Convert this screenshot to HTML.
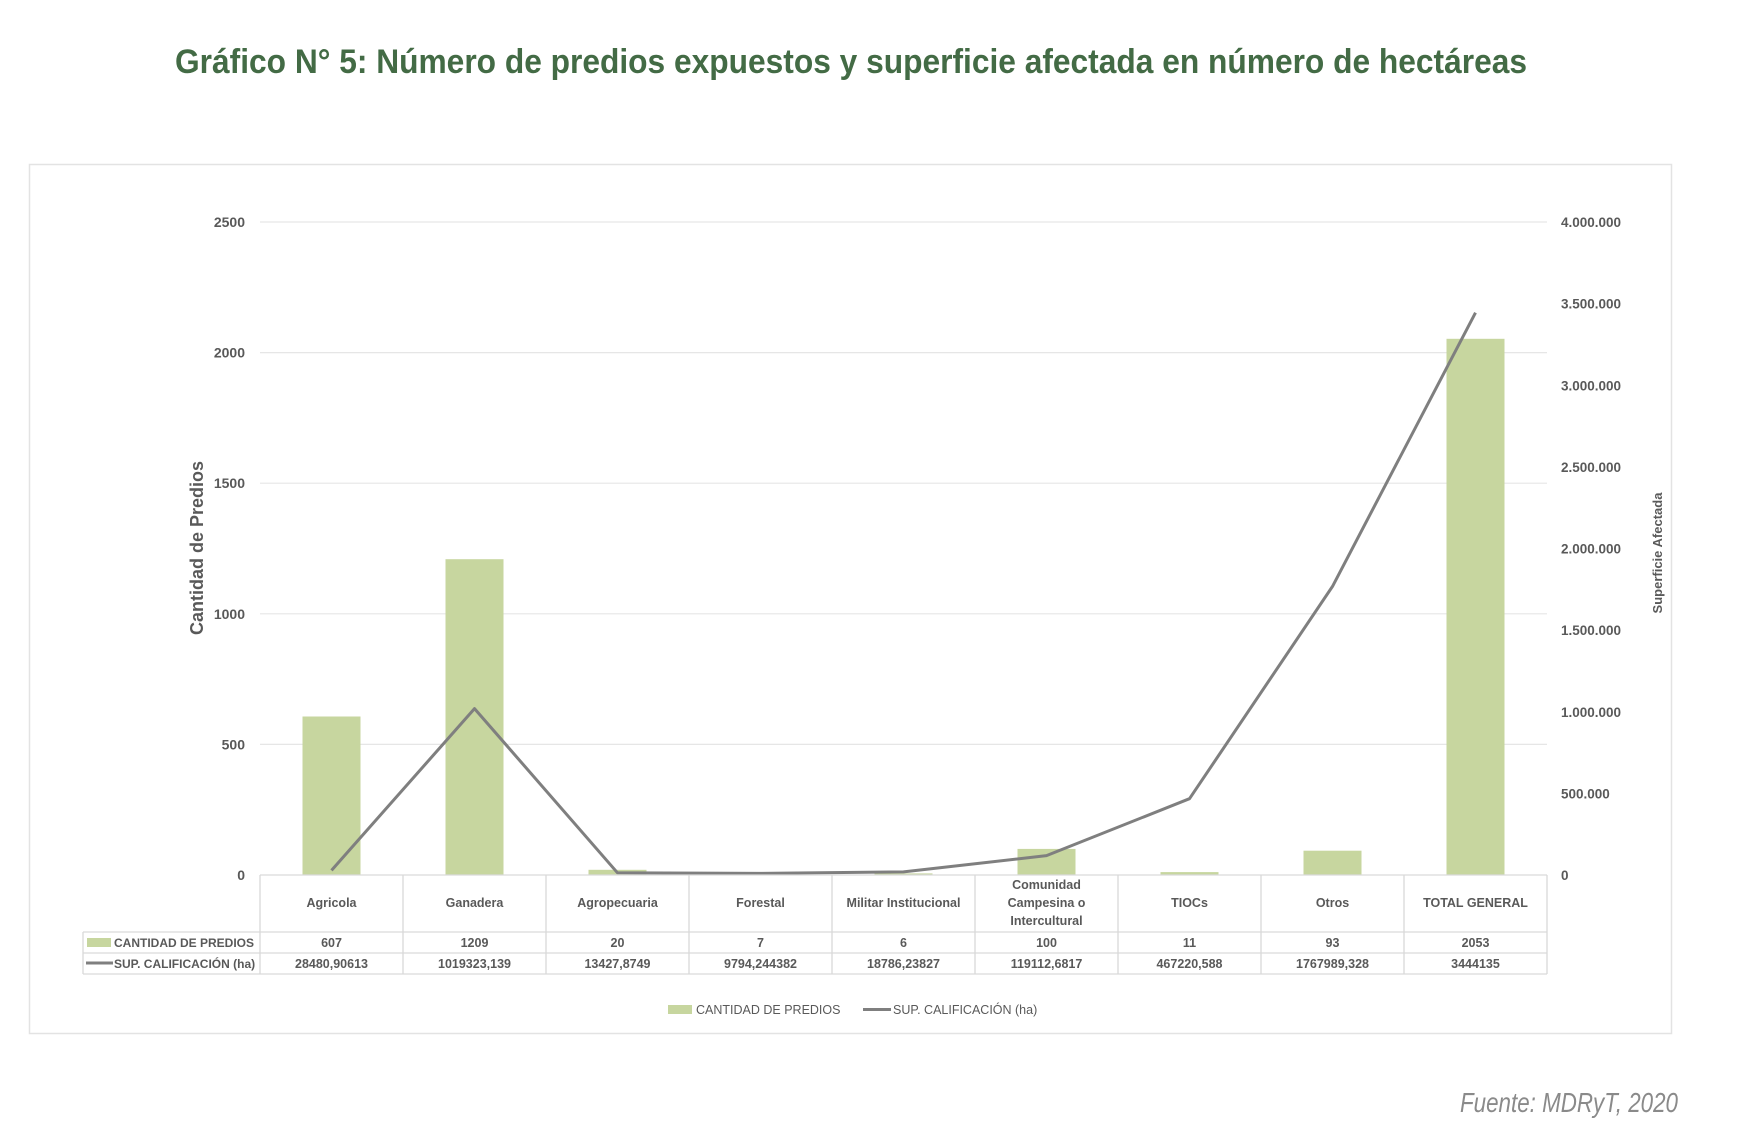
<!DOCTYPE html>
<html><head><meta charset="utf-8"><style>
html,body{margin:0;padding:0;background:#fff;}
svg{display:block;}
text{font-family:"Liberation Sans",sans-serif;}
</style></head><body>
<svg width="1740" height="1146" viewBox="0 0 1740 1146" xmlns="http://www.w3.org/2000/svg">
<text x="851" y="73" text-anchor="middle" font-size="34" font-weight="bold" fill="#436b45" textLength="1352" lengthAdjust="spacingAndGlyphs">Gráfico N° 5: Número de predios expuestos y superficie afectada en número de hectáreas</text>
<rect x="29.5" y="164.5" width="1642" height="869" fill="#fff" stroke="#e3e3e3" stroke-width="1.5"/>
<g stroke="#e6e6e6" stroke-width="1.2">
<line x1="260" y1="222" x2="1547" y2="222"/>
<line x1="260" y1="352.6" x2="1547" y2="352.6"/>
<line x1="260" y1="483.2" x2="1547" y2="483.2"/>
<line x1="260" y1="613.8" x2="1547" y2="613.8"/>
<line x1="260" y1="744.4" x2="1547" y2="744.4"/>
</g>
<g font-size="14" font-weight="bold" fill="#595959" text-anchor="end">
<text x="245" y="227">2500</text><text x="245" y="357.6">2000</text><text x="245" y="488.2">1500</text><text x="245" y="618.8">1000</text><text x="245" y="749.4">500</text><text x="245" y="880">0</text>
</g>
<g font-size="13.5" font-weight="bold" fill="#595959">
<text x="1561" y="227">4.000.000</text><text x="1561" y="308.6">3.500.000</text><text x="1561" y="390.3">3.000.000</text><text x="1561" y="471.9">2.500.000</text><text x="1561" y="553.5">2.000.000</text><text x="1561" y="635.1">1.500.000</text><text x="1561" y="716.8">1.000.000</text><text x="1561" y="798.4">500.000</text><text x="1561" y="880">0</text>
</g>
<text transform="translate(203,548) rotate(-90)" text-anchor="middle" font-size="18" font-weight="bold" fill="#595959">Cantidad de Predios</text>
<text transform="translate(1662,553) rotate(-90)" text-anchor="middle" font-size="13" font-weight="bold" fill="#595959">Superficie Afectada</text>
<g fill="#c7d69f">
<rect x="302.5" y="716.5" width="58" height="158.5"/>
<rect x="445.5" y="559.2" width="58" height="315.8"/>
<rect x="588.5" y="869.8" width="58" height="5.2"/>
<rect x="731.5" y="873.2" width="58" height="1.8"/>
<rect x="874.5" y="873.4" width="58" height="1.6"/>
<rect x="1017.5" y="848.9" width="58" height="26.1"/>
<rect x="1160.5" y="872.1" width="58" height="2.9"/>
<rect x="1303.5" y="850.7" width="58" height="24.3"/>
<rect x="1446.5" y="338.8" width="58" height="536.2"/>
</g>
<polyline fill="none" stroke="#7f7f7f" stroke-width="3" stroke-linejoin="round" points="331.5,870.4 474.5,708.6 617.5,872.8 760.5,873.4 903.5,871.9 1046.5,855.6 1189.5,798.7 1332.5,586.4 1475.5,312.7"/>
<g stroke="#d9d9d9" stroke-width="1.3" fill="none">
<line x1="260" y1="875" x2="1547" y2="875"/>
<line x1="83" y1="932" x2="1547" y2="932"/>
<line x1="83" y1="953" x2="1547" y2="953"/>
<line x1="83" y1="974" x2="1547" y2="974"/>
<line x1="83" y1="932" x2="83" y2="974"/>
<line x1="260" y1="875" x2="260" y2="974"/>
<line x1="403" y1="875" x2="403" y2="974"/>
<line x1="546" y1="875" x2="546" y2="974"/>
<line x1="689" y1="875" x2="689" y2="974"/>
<line x1="832" y1="875" x2="832" y2="974"/>
<line x1="975" y1="875" x2="975" y2="974"/>
<line x1="1118" y1="875" x2="1118" y2="974"/>
<line x1="1261" y1="875" x2="1261" y2="974"/>
<line x1="1404" y1="875" x2="1404" y2="974"/>
<line x1="1547" y1="875" x2="1547" y2="974"/>
</g>
<g font-size="12.5" font-weight="bold" fill="#595959" text-anchor="middle">
<text x="331.5" y="907">Agricola</text><text x="474.5" y="907">Ganadera</text><text x="617.5" y="907">Agropecuaria</text><text x="760.5" y="907">Forestal</text><text x="903.5" y="907">Militar Institucional</text>
<text x="1046.5" y="889">Comunidad</text><text x="1046.5" y="907">Campesina o</text><text x="1046.5" y="925">Intercultural</text>
<text x="1189.5" y="907">TIOCs</text><text x="1332.5" y="907">Otros</text><text x="1475.5" y="907">TOTAL GENERAL</text>
<text x="331.5" y="947">607</text><text x="474.5" y="947">1209</text><text x="617.5" y="947">20</text><text x="760.5" y="947">7</text><text x="903.5" y="947">6</text><text x="1046.5" y="947">100</text><text x="1189.5" y="947">11</text><text x="1332.5" y="947">93</text><text x="1475.5" y="947">2053</text>
<text x="331.5" y="968">28480,90613</text><text x="474.5" y="968">1019323,139</text><text x="617.5" y="968">13427,8749</text><text x="760.5" y="968">9794,244382</text><text x="903.5" y="968">18786,23827</text><text x="1046.5" y="968">119112,6817</text><text x="1189.5" y="968">467220,588</text><text x="1332.5" y="968">1767989,328</text><text x="1475.5" y="968">3444135</text>
</g>
<rect x="87" y="938" width="24" height="9" fill="#c7d69f"/>
<line x1="86" y1="963" x2="113" y2="963" stroke="#7f7f7f" stroke-width="3"/>
<g font-size="12" font-weight="bold" fill="#595959">
<text x="114" y="947">CANTIDAD DE PREDIOS</text>
<text x="114" y="968">SUP. CALIFICACIÓN (ha)</text>
</g>
<rect x="668" y="1005" width="24" height="9" fill="#c7d69f"/>
<text x="696" y="1014" font-size="12.5" fill="#595959">CANTIDAD DE PREDIOS</text>
<line x1="863" y1="1009.5" x2="891" y2="1009.5" stroke="#7f7f7f" stroke-width="3"/>
<text x="893" y="1014" font-size="12.5" fill="#595959">SUP. CALIFICACIÓN (ha)</text>
<text x="1678" y="1112" text-anchor="end" font-size="28" font-style="italic" fill="#8a8a8a" textLength="218" lengthAdjust="spacingAndGlyphs">Fuente: MDRyT, 2020</text>
</svg>
</body></html>
